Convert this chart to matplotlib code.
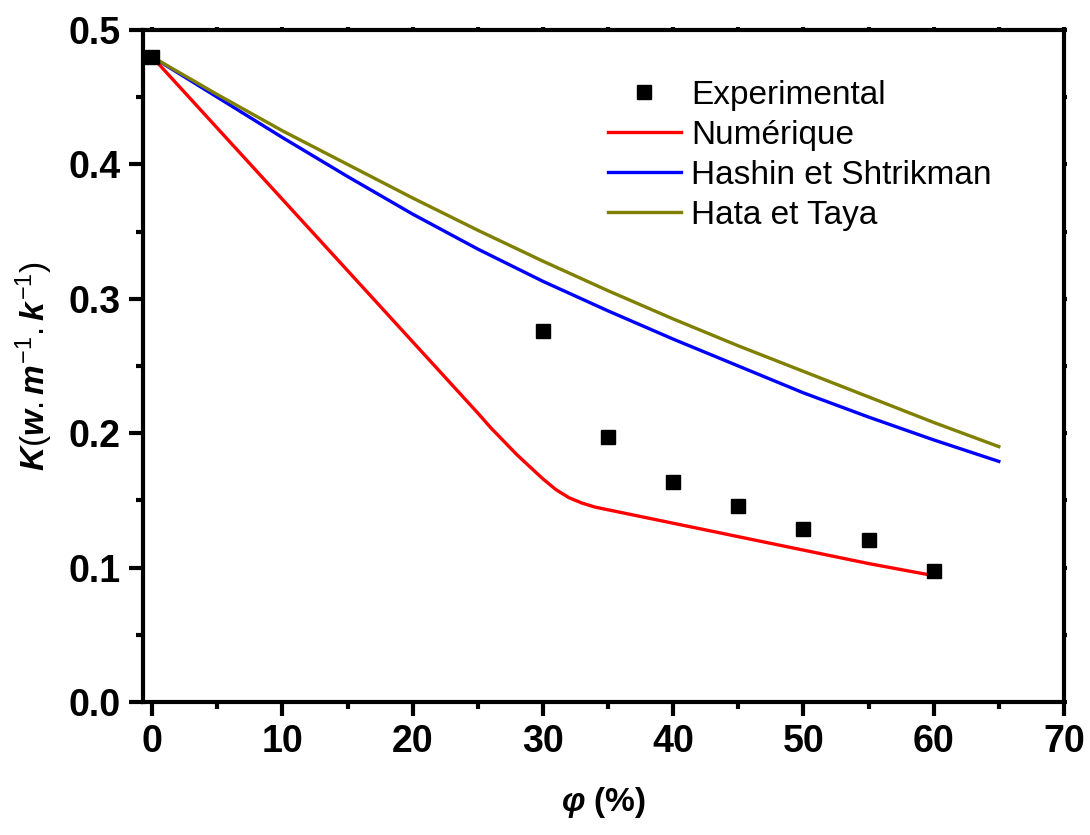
import matplotlib
matplotlib.use("Agg")
import matplotlib.pyplot as plt
from matplotlib.ticker import MultipleLocator, FormatStrFormatter

plt.rcParams['font.family'] = ['Liberation Sans', 'DejaVu Sans']
plt.rcParams['mathtext.fontset'] = 'custom'
plt.rcParams['mathtext.rm'] = 'Liberation Sans'
plt.rcParams['mathtext.it'] = 'Liberation Sans:italic:bold'
plt.rcParams['mathtext.bf'] = 'Liberation Sans:bold'

# Experimental measurements
exp_phi = [0, 30, 35, 40, 45, 50, 55, 60]
exp_k = [0.480, 0.276, 0.197, 0.164, 0.146, 0.129, 0.1205, 0.0975]

# Numerical model
num_phi = [0, 5, 10, 15, 20, 25, 26, 27, 28, 29, 30, 31, 32, 33, 34, 35, 36,
           40, 45, 50, 55, 60]
num_k = [0.480, 0.427, 0.374, 0.321, 0.268, 0.215, 0.204, 0.194, 0.184, 0.175,
         0.166, 0.158, 0.152, 0.148, 0.145, 0.143, 0.141, 0.133, 0.123, 0.113,
         0.103, 0.094]

# Analytical models
model_phi = [0, 5, 10, 15, 20, 25, 30, 35, 40, 45, 50, 55, 60, 65]
hs_k = [0.480, 0.450, 0.420, 0.391, 0.363, 0.337, 0.313, 0.291, 0.270,
        0.250, 0.230, 0.212, 0.195, 0.179]
ht_k = [0.480, 0.452, 0.425, 0.400, 0.375, 0.351, 0.328, 0.306, 0.285,
        0.265, 0.246, 0.227, 0.208, 0.190]

fig = plt.figure(figsize=(10.9, 8.35), dpi=100)
ax = fig.add_axes([0.1312, 0.1593, 0.8449, 0.8048])

ax.plot(num_phi, num_k, color='#ff0000', lw=2.4, label='Numérique', zorder=3)
ax.plot(model_phi, hs_k, color='#0000ff', lw=2.4, label='Hashin et Shtrikman', zorder=3)
ax.plot(model_phi, ht_k, color='#808000', lw=2.4, label='Hata et Taya', zorder=3)
ax.plot(exp_phi, exp_k, 's', color='black', ms=10, ls='none',
        label='Experimental', zorder=4)

ax.set_xlim(-0.7, 70)
ax.set_ylim(0, 0.5)

ax.xaxis.set_major_locator(MultipleLocator(10))
ax.xaxis.set_minor_locator(MultipleLocator(5))
ax.yaxis.set_major_locator(MultipleLocator(0.1))
ax.yaxis.set_minor_locator(MultipleLocator(0.05))
ax.yaxis.set_major_formatter(FormatStrFormatter('%.1f'))

for s in ax.spines.values():
    s.set_linewidth(3.0)

ax.tick_params(which='major', direction='out', length=10, width=3,
               labelsize=27, pad=6)
ax.tick_params(which='minor', direction='out', length=5, width=3)
ax.tick_params(which='both', top=True, right=True, labeltop=False, labelright=False)
# Short marks on the top and right spines
for t in ax.xaxis.get_major_ticks() + ax.xaxis.get_minor_ticks():
    t.tick2line.set_markersize(2)
for t in ax.yaxis.get_major_ticks() + ax.yaxis.get_minor_ticks():
    t.tick2line.set_markersize(2)

for lab in ax.get_xticklabels() + ax.get_yticklabels():
    lab.set_fontweight('bold')

ax.set_xlabel(r'$\mathit{\varphi}$ (%)', fontsize=24, fontweight='bold', labelpad=18)
ax.set_ylabel(r'$\mathit{K(w.m^{-1}.k^{-1})}$', fontsize=24, labelpad=10)

handles, labels = ax.get_legend_handles_labels()
order = [3, 0, 1, 2]
leg = ax.legend([handles[i] for i in order], [labels[i] for i in order],
                loc='upper left', bbox_to_anchor=(0.49, 0.946), frameon=False,
                fontsize=24, handlelength=2.2, handletextpad=0.3,
                labelspacing=0.27, borderaxespad=0)

fig.savefig('out.png', dpi=100)
